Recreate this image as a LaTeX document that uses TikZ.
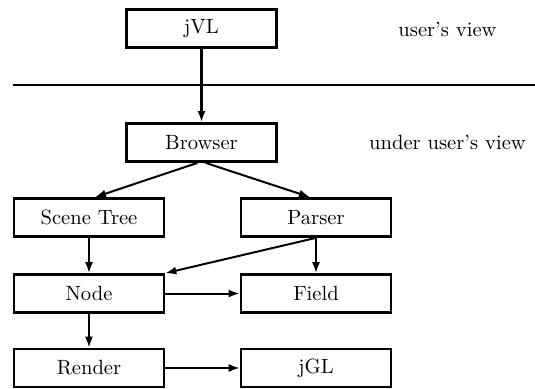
\documentclass[tikz,border=0pt]{standalone}
\usetikzlibrary{arrows.meta}
\begin{document}
\begin{tikzpicture}[x=0.5pt,y=-0.5pt,
  box/.style={draw,line width=1.35pt,minimum width=75pt,minimum height=19pt,inner sep=0pt,font=\fontsize{10.3}{12}\selectfont},
  lbl/.style={inner sep=0pt,font=\fontsize{10.3}{12}\selectfont},
  arr/.style={line width=1pt,-{Latex[length=5.5pt,width=4pt]}},
  thickarr/.style={line width=1.3pt,-{Latex[length=5.5pt,width=4pt]}}]
\useasboundingbox (0,0) rectangle (535,388);
\node[box] (jvl) at (201.5,28.5) {jVL};
\node[box] (browser) at (201.5,142.5) {Browser};
\node[box] (scene) at (89,217.5) {Scene Tree};
\node[box] (parser) at (316,217.5) {Parser};
\node[box] (node) at (89,293.5) {Node};
\node[box] (field) at (316,293.5) {Field};
\node[box] (render) at (89,368) {Render};
\node[box] (jgl) at (316,368) {jGL};
\node[lbl] (uv) at (447.5,29) {user's view};
\node[lbl] (uuv) at (447.5,142) {under user's view};
\coordinate (la) at (13,85);
\coordinate (lb) at (535,85);
\draw[line width=1pt] (la) -- (lb);
\draw[thickarr] (jvl.south) -- (browser.north);
\draw[arr] ([xshift=-2pt]browser.south) -- ([xshift=3pt]scene.north);
\draw[arr] ([xshift=2pt]browser.south) -- ([xshift=-3pt]parser.north);
\draw[arr] (scene) -- (node);
\draw[arr] (parser) -- (field);
\draw[arr] (parser.south) -- (node.north east);
\draw[arr] (node) -- (field);
\draw[arr] (node) -- (render);
\draw[arr] (render) -- (jgl);
\end{tikzpicture}
\end{document}
